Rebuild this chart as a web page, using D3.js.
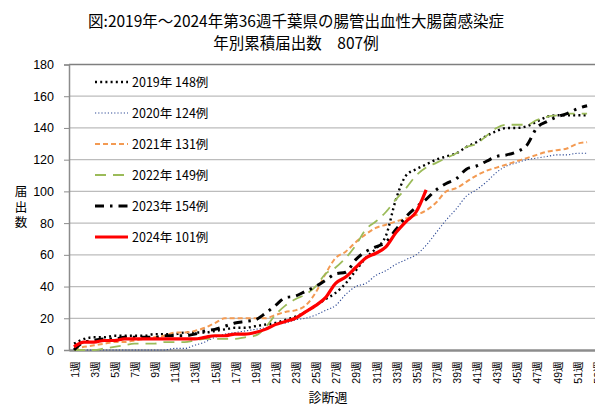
<!DOCTYPE html>
<html>
<head>
<meta charset="utf-8">
<script src="https://cdn.jsdelivr.net/npm/d3@7"></script>
<style>
	body { margin: 0; background: #fff; }
	svg { display: block; font-family: "Noto Sans CJK JP", "Noto Sans", sans-serif; }
</style>
</head>
<body>
<div id="chart"></div>
<script>
// cumulative reports per diagnosis week
var weeks = d3.range(1, 54);
var tickWeeks = weeks.filter(function(w){ return w % 2 == 1; });
var yTicks = d3.range(0, 181, 20);

var names = ["2019年 148例", "2020年 124例", "2021年 131例", "2022年 149例", "2023年 154例", "2024年 101例"];

var y2019 = [4, 7, 8, 8, 9, 9, 9, 9, 10, 10, 10, 11, 11, 11, 12, 13, 14, 14, 15, 16,
	17, 19, 21, 24, 28, 32, 36, 42, 50, 58, 64, 72, 95, 110, 114, 117, 120, 122, 124, 128,
	131, 135, 138, 140, 140, 141, 144, 147, 148, 148, 148, 148];
var y2020 = [0, 0, 0, 0, 0, 0, 0, 0, 0, 0, 1, 1, 3, 5, 8, 10, 11, 12, 13, 14,
	16, 17, 19, 20, 22, 25, 28, 35, 40, 42, 47, 50, 54, 57, 60, 66, 74, 82, 89, 97,
	101, 106, 112, 116, 118, 120, 121, 122, 123, 123, 124, 124];
var y2021 = [1, 2, 3, 4, 5, 5, 6, 7, 8, 9, 11, 11, 12, 14, 17, 20, 20, 20, 20, 20,
	22, 24, 25, 28, 36, 48, 58, 62, 68, 73, 77, 79, 81, 83, 85, 88, 93, 100, 102, 106,
	110, 113, 115, 117, 119, 121, 123, 125, 126, 127, 130, 131];
var y2022 = [0, 0, 0, 1, 2, 3, 4, 4, 4, 5, 5, 5, 6, 7, 7, 7, 7, 8, 9, 14,
	22, 28, 32, 35, 40, 48, 52, 58, 66, 76, 81, 87, 95, 102, 110, 115, 118, 121, 124, 128,
	130, 135, 140, 142, 142, 142, 145, 147, 148, 149, 149, 149];
var y2023 = [0, 5, 6, 7, 7, 8, 8, 8, 8, 9, 9, 9, 10, 12, 13, 15, 17, 18, 19, 23,
	28, 33, 34, 37, 40, 44, 48, 49, 57, 62, 65, 68, 76, 84, 90, 95, 101, 105, 108, 114,
	116, 119, 122, 123, 125, 129, 140, 144, 147, 149, 152, 154];
var y2024 = [2, 5, 5, 6, 6, 7, 7, 7, 7, 7, 7, 7, 7, 8, 9, 9, 10, 10, 11, 13,
	16, 18, 20, 24, 28, 33, 42, 46, 52, 58, 61, 65, 74, 81, 87, 101];

var series = [y2019, y2020, y2021, y2022, y2023, y2024];

// line looks, same order as names
var styles = [
	{color: "#000000", width: 2.4, dash: "2,3.2"},
	{color: "#2e4a96", width: 1.1, dash: "1.2,2"},
	{color: "#f39a52", width: 2, dash: "5,3"},
	{color: "#9bbb59", width: 1.8, dash: "11,7"},
	{color: "#000000", width: 3, dash: "9,6,2.5,6"},
	{color: "#ff0000", width: 3.2, dash: null}
];

var width = 595, height = 405;
var margin = {left: 69, top: 64.5, bottom: 350};
var band = 10.06;

var svg = d3.select("#chart").append("svg")
	.attr("width", width)
	.attr("height", height);

var x = d3.scaleBand()
	.domain(weeks)
	.range([margin.left, margin.left + band * weeks.length]);

var y = d3.scaleLinear()
	.domain([0, 180])
	.range([margin.bottom, margin.top]);

function cx(w) { return x(w) + x.bandwidth() / 2; }

// title
var title = svg.append("g").attr("fill", "#000").attr("font-size", 15.5).attr("text-anchor", "middle");
title.append("text").attr("x", 296).attr("y", 27).text("図:2019年～2024年第36週千葉県の腸管出血性大腸菌感染症");
title.append("text").attr("x", 296).attr("y", 49).attr("xml:space", "preserve").text("年別累積届出数　807例");

// gridlines
svg.append("g")
	.selectAll("line")
	.data(yTicks.filter(function(d){ return d > 0; }))
	.enter()
		.append("line")
			.attr("x1", margin.left)
			.attr("x2", width)
			.attr("y1", function(d){ return y(d); })
			.attr("y2", function(d){ return y(d); })
			.attr("stroke", function(d){ return d == 180 ? "#7f7f7f" : "#bcbcbc"; })
			.attr("stroke-width", function(d){ return d == 180 ? 1.6 : 1.3; });

// y axis
var yAxis = svg.append("g")
	.attr("transform", "translate(" + margin.left + ",0)")
	.call(d3.axisLeft(y).tickValues(yTicks).tickSize(5).tickPadding(10));
yAxis.select(".domain").attr("stroke", "#8c8c8c").attr("stroke-width", 1.5);
yAxis.selectAll(".tick line").attr("stroke", "#8c8c8c");
yAxis.selectAll(".tick text").attr("font-size", 12.5).attr("fill", "#000")
	.attr("font-family", "'Liberation Sans', 'Noto Sans', sans-serif");

// x axis
var xAxis = svg.append("g")
	.attr("transform", "translate(0," + margin.bottom + ")")
	.call(d3.axisBottom(x).tickValues(tickWeeks).tickSize(0).tickFormat(function(d){ return d + "週"; }));
xAxis.select(".domain").attr("stroke", "#8c8c8c").attr("stroke-width", 2.6);
xAxis.selectAll(".tick text")
	.attr("font-size", 10.5)
	.attr("fill", "#000")
	.attr("transform", "rotate(-90)")
	.attr("text-anchor", "end")
	.attr("x", -11)
	.attr("y", 1)
	.attr("dy", "0.35em");

// axis titles
svg.append("text")
	.attr("x", 328).attr("y", 402)
	.attr("text-anchor", "middle")
	.attr("font-size", 13)
	.text("診断週");

// vertical title, one text element
svg.append("text")
	.attr("x", 21)
	.attr("y", 185)
	.attr("font-size", 12.5)
	.style("writing-mode", "vertical-rl")
	.style("letter-spacing", "3px")
	.text("届出数");

// lines
var line = d3.line()
	.x(function(d, i){ return cx(weeks[i]); })
	.y(function(d){ return y(d); })
	.curve(d3.curveMonotoneX);

svg.append("g")
	.selectAll("path")
	.data(series)
	.enter()
		.append("path")
			.attr("d", function(d){ return line(d); })
			.attr("fill", "none")
			.attr("stroke", function(d, i){ return styles[i].color; })
			.attr("stroke-width", function(d, i){ return styles[i].width; })
			.attr("stroke-dasharray", function(d, i){ return styles[i].dash; })
			.attr("stroke-linejoin", "round");

// legend
var legend = svg.append("g")
	.selectAll("g")
	.data(names)
	.enter()
		.append("g")
			.attr("transform", function(d, i){ return "translate(95," + (82 + i * 31) + ")"; });

legend.append("line")
	.attr("x1", 0).attr("x2", 33)
	.attr("stroke", function(d, i){ return styles[i].color; })
	.attr("stroke-width", function(d, i){ return styles[i].width; })
	.attr("stroke-dasharray", function(d, i){ return styles[i].dash; });

legend.append("text")
	.attr("x", 37)
	.attr("dy", "0.36em")
	.attr("font-size", 12.5)
	.text(function(d){ return d; });
</script>
</body>
</html>
